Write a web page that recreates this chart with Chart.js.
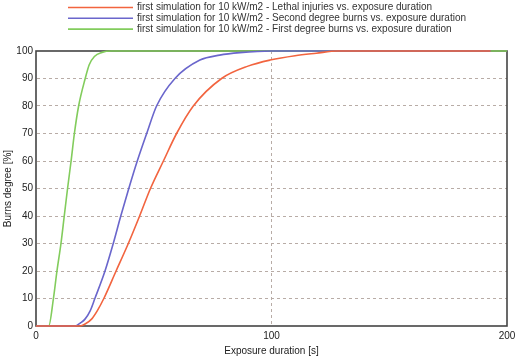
<!DOCTYPE html>
<html lang="en">
<head>
    <meta charset="UTF-8">
    <title>Burns degree vs. exposure duration</title>
    <script src="https://cdn.jsdelivr.net/npm/chart.js"></script>
    <style>
        body {
            margin: 0;
            background-color: #ffffff;
        }
        #wrap {
            width: 517px;
            height: 357px;
        }
    </style>
</head>
<body>
    <div id="wrap"><canvas id="burnsChart" width="517" height="357"></canvas></div>

    <script>
        // values (time in s, burns degree in %)
        const lethalTime = [0, 15, 18.7, 21, 23.6, 26, 28.8, 34, 39.2, 44, 48.6, 54.1, 59.7, 66.8, 78.8, 90, 99.4, 110, 119, 128, 193];
        const lethalPct  = [0, 0, 0, 0.8, 2.5, 5.5, 10, 20, 30, 40, 50, 60, 70, 80, 90, 94.5, 96.7, 98.3, 99.2, 100, 100];

        const secondTime = [0, 10, 16.5, 19, 20.8, 23, 25, 29.3, 32.8, 36, 39.4, 43, 47, 51.2, 59, 69.6, 78, 86.6, 100, 193];
        const secondPct  = [0, 0, 0, 1.2, 2.5, 5.5, 10, 20, 30, 40, 50, 60, 70, 80, 90, 96.7, 98.5, 99.4, 100, 100];

        const firstTime = [0, 5.4, 7.4, 8.9, 10.6, 12.0, 13.4, 14.9, 16.3, 18.1, 20.9, 22.6, 24.8, 28, 32, 200];
        const firstPct  = [0, 0, 10, 20, 30, 40, 50, 60, 70, 80, 90, 95, 98, 99.5, 100, 100];

        const seriesLabels = [
            'first simulation for 10 kW/m2 - Lethal injuries vs. exposure duration',
            'first simulation for 10 kW/m2 - Second degree burns vs. exposure duration',
            'first simulation for 10 kW/m2 - First degree burns vs. exposure duration'
        ];
        const seriesColors = ['#f2643f', '#6a66cc', '#82cc5c'];

        const xTicks = [0, 100, 200];

        function toPoints(xs, ys) {
            return xs.map((x, i) => ({ x: x, y: ys[i] }));
        }

        // legend drawn by hand: line sample left, text left aligned
        const legendRows = {
            id: 'legendRows',
            afterDraw(chart) {
                const ctx = chart.ctx;
                ctx.save();
                ctx.font = '10px "Liberation Sans", Arial, sans-serif';
                ctx.textBaseline = 'middle';
                ctx.fillStyle = '#333';
                chart.data.datasets.forEach((ds, i) => {
                    const y = 7.5 + i * 10.8;
                    ctx.strokeStyle = ds.borderColor;
                    ctx.lineWidth = 1.6;
                    ctx.beginPath();
                    ctx.moveTo(68, y);
                    ctx.lineTo(133, y);
                    ctx.stroke();
                    ctx.fillText(ds.label, 137, y);
                });
                ctx.restore();
            }
        };

        // dark frame round the plot area, under the curves
        const frame = {
            id: 'frame',
            beforeDatasetsDraw(chart) {
                const a = chart.chartArea;
                const ctx = chart.ctx;
                ctx.save();
                ctx.strokeStyle = '#444';
                ctx.lineWidth = 1.6;
                ctx.strokeRect(a.left, a.top, a.right - a.left, a.bottom - a.top);
                ctx.restore();
            }
        };

        const tickFont = { family: '"Liberation Sans", Arial, sans-serif', size: 10 };
        const gridGrey = '#b8aca6';

        new Chart(document.getElementById('burnsChart'), {
            type: 'line',
            data: {
                datasets: [
                    { label: seriesLabels[0], data: toPoints(lethalTime, lethalPct), borderColor: seriesColors[0] },
                    { label: seriesLabels[1], data: toPoints(secondTime, secondPct), borderColor: seriesColors[1] },
                    { label: seriesLabels[2], data: toPoints(firstTime, firstPct), borderColor: seriesColors[2] }
                ].map(ds => Object.assign(ds, {
                    borderWidth: 1.6,
                    pointRadius: 0,
                    fill: false,
                    clip: false,
                    cubicInterpolationMode: 'monotone'
                }))
            },
            options: {
                responsive: false,
                animation: false,
                layout: { padding: { top: 51, right: 10, left: 0, bottom: 0 } },
                plugins: {
                    legend: { display: false },
                    tooltip: { enabled: false }
                },
                scales: {
                    x: {
                        type: 'linear',
                        min: 0,
                        max: 200,
                        afterBuildTicks: scale => { scale.ticks = xTicks.map(v => ({ value: v })); },
                        afterFit: scale => {
                            scale.height = 31;
                            scale.paddingRight = 0;
                        },
                        border: { display: true, color: 'rgba(0,0,0,0)', dash: [3, 3] },
                        grid: {
                            color: ctx => (ctx.tick && ctx.tick.value === 100) ? gridGrey : 'rgba(0,0,0,0)',
                            drawTicks: false
                        },
                        ticks: { font: tickFont, color: '#222', padding: 4, maxRotation: 0 },
                        title: {
                            display: true,
                            text: 'Exposure duration [s]',
                            font: tickFont,
                            color: '#222',
                            padding: { top: -1, bottom: 0 }
                        }
                    },
                    y: {
                        min: 0,
                        max: 100,
                        ticks: { stepSize: 10, font: tickFont, color: '#222', padding: 3 },
                        afterFit: scale => { scale.width = 36; },
                        border: { display: true, color: 'rgba(0,0,0,0)', dash: [3, 3] },
                        grid: {
                            color: ctx => (ctx.tick && (ctx.tick.value === 0 || ctx.tick.value === 100)) ? 'rgba(0,0,0,0)' : gridGrey,
                            drawTicks: false
                        },
                        title: {
                            display: true,
                            text: 'Burns degree [%]',
                            font: tickFont,
                            color: '#222',
                            padding: { top: 2, bottom: 0 }
                        }
                    }
                }
            },
            plugins: [legendRows, frame]
        });
    </script>
</body>
</html>
